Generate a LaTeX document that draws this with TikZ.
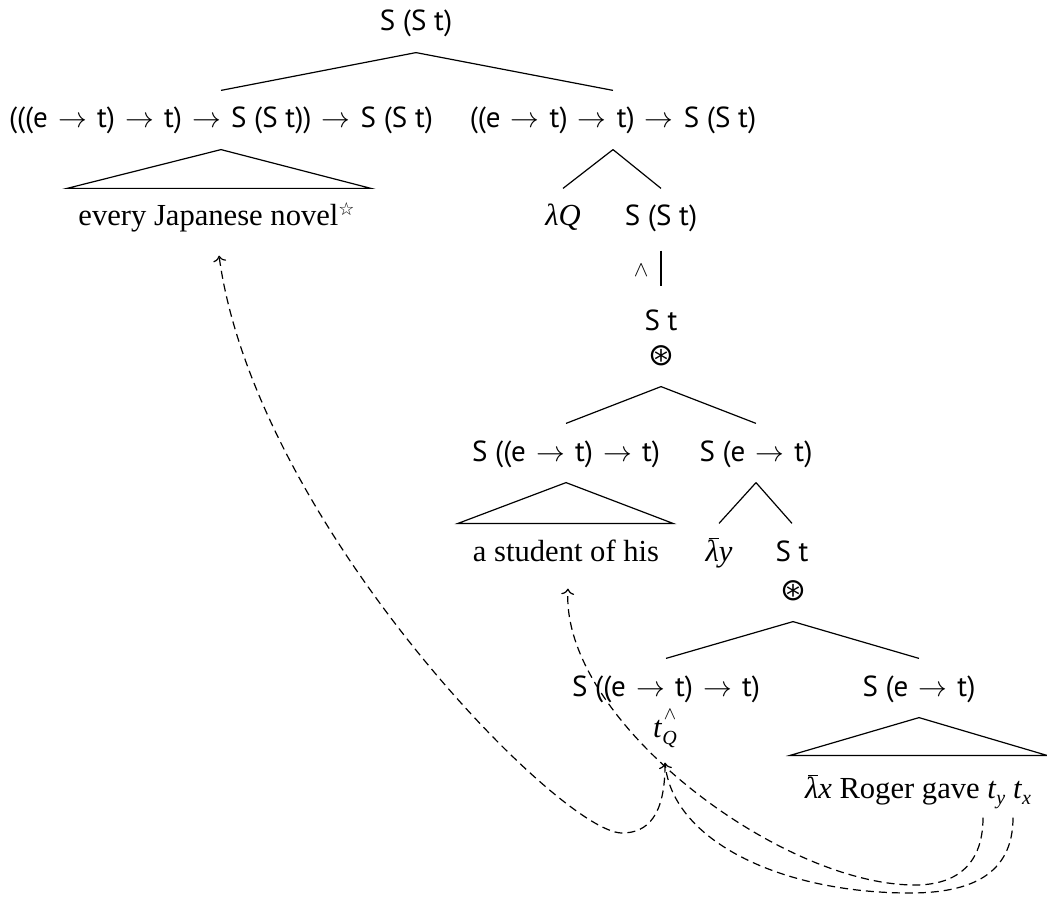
\documentclass[tikz,border=0pt]{standalone}
\usepackage{fontspec}
\setmainfont{Liberation Serif}
\newfontfamily\tyf{PT Sans}
\newfontfamily\symf{DejaVu Sans}
\usetikzlibrary{calc,arrows.meta}
\newcommand\arr{\hspace{1.2pt}{\fontsize{13.5}{13.5}\selectfont$\rightarrow$}\hspace{1.2pt}}
\newcommand\lbar{\leavevmode\rlap{\hspace{0.1em}\rule[1.6ex]{0.33em}{0.05ex}}\textit{λ}}
\newcommand\tsub[1]{\textit{t}\raisebox{-0.45ex}{\fontsize{10}{10}\selectfont\itshape #1}}
\newcommand\tqq{\textit{t}\rlap{\raisebox{1.25ex}{\hspace{0.05em}\fontsize{9}{9}\selectfont$\wedge$}}\raisebox{-0.5ex}{\fontsize{10}{10}\selectfont\itshape Q}}
\begin{document}
\begin{tikzpicture}[x=0.5pt,y=-0.5pt, line width=0.6pt,
  lbl/.style={inner sep=0pt, text height=11pt, text depth=3pt, minimum height=29pt, font=\fontsize{15.3}{18}\selectfont},
  typ/.style={lbl, font=\tyf\fontsize{14.5}{17}\selectfont},
  ast/.style={lbl, font=\symf\fontsize{15.5}{16}\selectfont},
  trace/.style={dash pattern=on 4pt off 2.5pt, -{To[length=3pt,width=6.5pt]}}]
\useasboundingbox (0,0) rectangle (1047,898);
\node[typ] (root) at (416,23) {S (S t)};
\node[typ] (l1a) at (221,120) {(((e \arr{} t) \arr{} t) \arr{} S (S t)) \arr{} S (S t)};
\node[typ] (l1b) at (613,120) {((e \arr{} t) \arr{} t) \arr{} S (S t)};
\node[lbl] (novel) at (217,218) {every Japanese novel\textsuperscript{\symf\fontsize{9}{9}\selectfont ☆}};
\node[lbl] (lamq) at (563,218) {\textit{λQ}};
\node[typ] (sst) at (661,218) {S (S t)};
\node[typ] (st1) at (661,322) {S t};
\node[ast] (ast1) at (661,357) {⊛};
\node[typ] (s4a) at (566,453) {S ((e \arr{} t) \arr{} t)};
\node[typ] (s4b) at (756,453) {S (e \arr{} t)};
\node[lbl] (student) at (566,553) {a student of his};
\node[lbl] (lamy) at (719,553) {\lbar\textit{y}};
\node[typ] (st2) at (792,553) {S t};
\node[ast] (ast2) at (793,592) {⊛};
\node[typ] (s6a) at (666,688) {S ((e \arr{} t) \arr{} t)};
\node[typ] (s6b) at (919,688) {S (e \arr{} t)};
\node[lbl] (tq) at (665,729) {\tqq};
\node[lbl] (roger) at (918,790) {\lbar\textit{x} Roger gave \tsub{y} \tsub{x}};
\coordinate (ty) at ($(roger.south)+(65,-2)$);
\coordinate (tx) at ($(roger.south)+(95,-2)$);
% tree lines
\draw (root.south) -- (l1a.north);
\draw (root.south) -- (l1b.north);
\draw ($(novel.north)+(-150,0)$) -- (l1a.south) -- ($(novel.north)+(154,0)$) -- cycle;
\draw (l1b.south) -- (lamq.north);
\draw (l1b.south) -- (sst.north);
\draw[shorten <=1.5pt, shorten >=3pt] (sst.south) -- node[left=6pt, inner sep=0pt, font=\fontsize{15}{15}\selectfont] (wedge) {$\scriptstyle\wedge$} (st1.north);
\draw (ast1.south) -- (s4a.north);
\draw (ast1.south) -- (s4b.north);
\draw ($(student.north)+(-108,0)$) -- (s4a.south) -- ($(student.north)+(107,0)$) -- cycle;
\draw (s4b.south) -- (lamy.north);
\draw (s4b.south) -- (st2.north);
\draw (ast2.south) -- (s6a.north);
\draw (ast2.south) -- (s6b.north);
\draw ($(roger.north)+(-128,-5)$) -- (s6b.south) -- ($(roger.north)+(129,-5)$) -- cycle;
% dashed traces
\draw[trace] ([yshift=-3pt]tq.south) .. controls (665,815) and (648,833) .. (622,833) .. controls (560,833) and (255,520) .. ([yshift=-4pt,xshift=1pt]novel.south);
\draw[trace] (ty) .. controls (983,870) and (950,885) .. (915,885) .. controls (780,885) and (560,720) .. ([yshift=-3pt,xshift=1pt]student.south);
\draw[trace] (tx) .. controls (1013,875) and (970,893) .. (910,893) .. controls (780,893) and (672,840) .. ([yshift=-2pt]tq.south);
\end{tikzpicture}
\end{document}
